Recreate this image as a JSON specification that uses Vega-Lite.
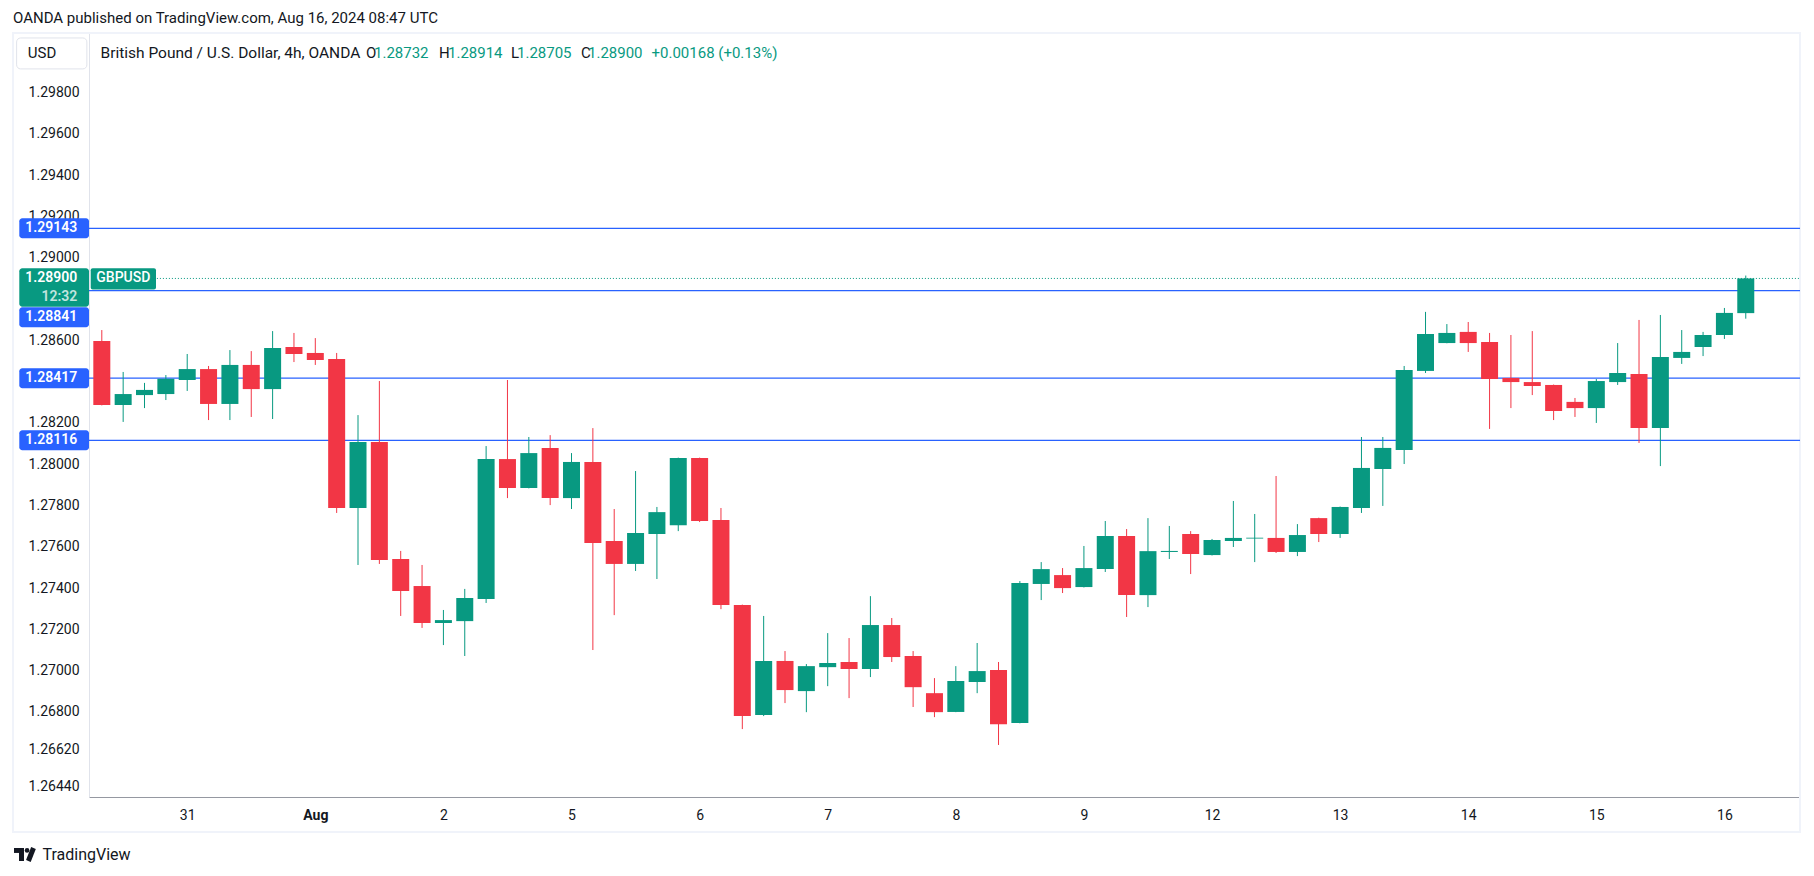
{
  "$schema": "https://vega.github.io/schema/vega-lite/v6.json",
  "width": 1711,
  "height": 764,
  "autosize": {"type": "none"},
  "padding": {"left": 89, "top": 33, "right": 14, "bottom": 79},
  "background": "white",
  "config": {
    "view": {"stroke": "#e0e3eb", "strokeWidth": 1},
    "font": "Roboto",
    "axis": {"grid": false, "ticks": false},
    "scale": {"continuousPadding": 0}
  },
  "title": {
    "text": "OANDA published on TradingView.com, Aug 16, 2024 08:47 UTC",
    "anchor": "start",
    "frame": "group",
    "dx": -76,
    "offset": 6,
    "fontSize": 15,
    "fontWeight": "normal",
    "color": "#131722",
    "font": "Roboto"
  },
  "datasets": {
    "candles": [
      {"i": 0, "o": 1.28597, "h": 1.28650, "l": 1.28285, "c": 1.28287},
      {"i": 1, "o": 1.28287, "h": 1.28447, "l": 1.28205, "c": 1.28340},
      {"i": 2, "o": 1.28335, "h": 1.28394, "l": 1.28272, "c": 1.28360},
      {"i": 3, "o": 1.28340, "h": 1.28432, "l": 1.28311, "c": 1.28414},
      {"i": 4, "o": 1.28408, "h": 1.28534, "l": 1.28355, "c": 1.28461},
      {"i": 5, "o": 1.28461, "h": 1.28476, "l": 1.28214, "c": 1.28292},
      {"i": 6, "o": 1.28292, "h": 1.28553, "l": 1.28214, "c": 1.28481},
      {"i": 7, "o": 1.28481, "h": 1.28548, "l": 1.28229, "c": 1.28364},
      {"i": 8, "o": 1.28364, "h": 1.28645, "l": 1.28219, "c": 1.28563},
      {"i": 9, "o": 1.28568, "h": 1.28636, "l": 1.28495, "c": 1.28534},
      {"i": 10, "o": 1.28539, "h": 1.28611, "l": 1.28481, "c": 1.28505},
      {"i": 11, "o": 1.28510, "h": 1.28539, "l": 1.27764, "c": 1.27788},
      {"i": 12, "o": 1.27788, "h": 1.28238, "l": 1.27512, "c": 1.28108},
      {"i": 13, "o": 1.28108, "h": 1.28403, "l": 1.27517, "c": 1.27536},
      {"i": 14, "o": 1.27541, "h": 1.27580, "l": 1.27265, "c": 1.27386},
      {"i": 15, "o": 1.27410, "h": 1.27512, "l": 1.27207, "c": 1.27231},
      {"i": 16, "o": 1.27231, "h": 1.27294, "l": 1.27124, "c": 1.27245},
      {"i": 17, "o": 1.27240, "h": 1.27396, "l": 1.27071, "c": 1.27352},
      {"i": 18, "o": 1.27347, "h": 1.28088, "l": 1.27328, "c": 1.28025},
      {"i": 19, "o": 1.28025, "h": 1.28408, "l": 1.27836, "c": 1.27885},
      {"i": 20, "o": 1.27885, "h": 1.28132, "l": 1.27883, "c": 1.28054},
      {"i": 21, "o": 1.28079, "h": 1.28141, "l": 1.27802, "c": 1.27836},
      {"i": 22, "o": 1.27836, "h": 1.28054, "l": 1.27783, "c": 1.28011},
      {"i": 23, "o": 1.28011, "h": 1.28175, "l": 1.27100, "c": 1.27618},
      {"i": 24, "o": 1.27628, "h": 1.27783, "l": 1.27269, "c": 1.27517},
      {"i": 25, "o": 1.27517, "h": 1.27967, "l": 1.27483, "c": 1.27667},
      {"i": 26, "o": 1.27662, "h": 1.27793, "l": 1.27444, "c": 1.27768},
      {"i": 27, "o": 1.27705, "h": 1.28032, "l": 1.27676, "c": 1.28030},
      {"i": 28, "o": 1.28030, "h": 1.28032, "l": 1.27720, "c": 1.27725},
      {"i": 29, "o": 1.27730, "h": 1.27788, "l": 1.27298, "c": 1.27318},
      {"i": 30, "o": 1.27318, "h": 1.27320, "l": 1.26717, "c": 1.26780},
      {"i": 31, "o": 1.26785, "h": 1.27265, "l": 1.26780, "c": 1.27047},
      {"i": 32, "o": 1.27047, "h": 1.27095, "l": 1.26843, "c": 1.26906},
      {"i": 33, "o": 1.26901, "h": 1.27032, "l": 1.26799, "c": 1.27022},
      {"i": 34, "o": 1.27017, "h": 1.27182, "l": 1.26925, "c": 1.27037},
      {"i": 35, "o": 1.27042, "h": 1.27158, "l": 1.26867, "c": 1.27008},
      {"i": 36, "o": 1.27008, "h": 1.27361, "l": 1.26969, "c": 1.27221},
      {"i": 37, "o": 1.27221, "h": 1.27255, "l": 1.27042, "c": 1.27066},
      {"i": 38, "o": 1.27071, "h": 1.27095, "l": 1.26824, "c": 1.26920},
      {"i": 39, "o": 1.26891, "h": 1.26964, "l": 1.26775, "c": 1.26799},
      {"i": 40, "o": 1.26800, "h": 1.27022, "l": 1.26799, "c": 1.26950},
      {"i": 41, "o": 1.26945, "h": 1.27134, "l": 1.26891, "c": 1.26998},
      {"i": 42, "o": 1.27003, "h": 1.27042, "l": 1.26640, "c": 1.26741},
      {"i": 43, "o": 1.26746, "h": 1.27434, "l": 1.26745, "c": 1.27425},
      {"i": 44, "o": 1.27420, "h": 1.27526, "l": 1.27342, "c": 1.27492},
      {"i": 45, "o": 1.27463, "h": 1.27497, "l": 1.27376, "c": 1.27400},
      {"i": 46, "o": 1.27405, "h": 1.27604, "l": 1.27403, "c": 1.27497},
      {"i": 47, "o": 1.27492, "h": 1.27725, "l": 1.27478, "c": 1.27652},
      {"i": 48, "o": 1.27652, "h": 1.27686, "l": 1.27260, "c": 1.27366},
      {"i": 49, "o": 1.27366, "h": 1.27739, "l": 1.27308, "c": 1.27579},
      {"i": 50, "o": 1.27575, "h": 1.27701, "l": 1.27541, "c": 1.27580},
      {"i": 51, "o": 1.27662, "h": 1.27676, "l": 1.27468, "c": 1.27565},
      {"i": 52, "o": 1.27560, "h": 1.27638, "l": 1.27558, "c": 1.27633},
      {"i": 53, "o": 1.27628, "h": 1.27822, "l": 1.27599, "c": 1.27643},
      {"i": 54, "o": 1.27640, "h": 1.27759, "l": 1.27526, "c": 1.27644},
      {"i": 55, "o": 1.27643, "h": 1.27943, "l": 1.27570, "c": 1.27575},
      {"i": 56, "o": 1.27575, "h": 1.27710, "l": 1.27555, "c": 1.27657},
      {"i": 57, "o": 1.27739, "h": 1.27741, "l": 1.27623, "c": 1.27662},
      {"i": 58, "o": 1.27662, "h": 1.27795, "l": 1.27643, "c": 1.27793},
      {"i": 59, "o": 1.27788, "h": 1.28132, "l": 1.27764, "c": 1.27982},
      {"i": 60, "o": 1.27977, "h": 1.28132, "l": 1.27798, "c": 1.28079},
      {"i": 61, "o": 1.28069, "h": 1.28476, "l": 1.28001, "c": 1.28456},
      {"i": 62, "o": 1.28452, "h": 1.28738, "l": 1.28442, "c": 1.28631},
      {"i": 63, "o": 1.28587, "h": 1.28679, "l": 1.28586, "c": 1.28636},
      {"i": 64, "o": 1.28641, "h": 1.28689, "l": 1.28544, "c": 1.28587},
      {"i": 65, "o": 1.28592, "h": 1.28636, "l": 1.28171, "c": 1.28413},
      {"i": 66, "o": 1.28418, "h": 1.28626, "l": 1.28272, "c": 1.28398},
      {"i": 67, "o": 1.28398, "h": 1.28645, "l": 1.28335, "c": 1.28379},
      {"i": 68, "o": 1.28384, "h": 1.28386, "l": 1.28214, "c": 1.28258},
      {"i": 69, "o": 1.28302, "h": 1.28321, "l": 1.28229, "c": 1.28272},
      {"i": 70, "o": 1.28272, "h": 1.28413, "l": 1.28200, "c": 1.28403},
      {"i": 71, "o": 1.28398, "h": 1.28587, "l": 1.28384, "c": 1.28442},
      {"i": 72, "o": 1.28437, "h": 1.28699, "l": 1.28103, "c": 1.28176},
      {"i": 73, "o": 1.28176, "h": 1.28723, "l": 1.27991, "c": 1.28519},
      {"i": 74, "o": 1.28515, "h": 1.28650, "l": 1.28486, "c": 1.28544},
      {"i": 75, "o": 1.28568, "h": 1.28641, "l": 1.28524, "c": 1.28626},
      {"i": 76, "o": 1.28626, "h": 1.28757, "l": 1.28607, "c": 1.28733},
      {"i": 77, "o": 1.28732, "h": 1.28914, "l": 1.28705, "c": 1.28900}
    ],
    "levels": [
      {"price": 1.29143, "label": "1.29143"},
      {"price": 1.28841, "label": "1.28841"},
      {"price": 1.28417, "label": "1.28417"},
      {"price": 1.28116, "label": "1.28116"}
    ],
    "one": [{}]
  },
  "layer": [
    {
      "data": {"name": "one"},
      "mark": {"type": "rect", "fill": null, "stroke": "#f0f3fa", "strokeWidth": 2, "clip": false},
      "encoding": {
        "x": {"datum": -4.16},
        "x2": {"datum": 79.54},
        "y": {"datum": 1.30089},
        "y2": {"datum": 1.26218}
      }
    },
    {
      "data": {"name": "levels"},
      "mark": {"type": "rule", "color": "#2962ff", "strokeWidth": 1.2},
      "encoding": {
        "y": {"field": "price", "type": "quantitative"}
      }
    },
    {
      "data": {"name": "one"},
      "mark": {"type": "rule", "color": "#089981", "strokeWidth": 1, "strokeDash": [1, 2]},
      "encoding": {
        "x": {"datum": 2.58},
        "x2": {"datum": 79.54},
        "y": {"datum": 1.289}
      }
    },
    {
      "data": {"name": "candles"},
      "mark": {"type": "rule", "strokeWidth": 1},
      "encoding": {
        "x": {
          "field": "i", "type": "quantitative",
          "scale": {"domain": [-0.6, 79.54], "nice": false, "zero": false, "padding": 0},
          "axis": {
            "values": [4, 10, 16, 22, 28, 34, 40, 46, 52, 58, 64, 70, 76],
            "labelExpr": "['31','Aug','2','5','6','7','8','9','12','13','14','15','16'][round((datum.value-4)/6)]",
            "labelFontWeight": {"condition": {"test": "datum.value == 10", "value": "bold"}, "value": "normal"},
            "labelFontSize": 14,
            "labelColor": "#131722",
            "labelPadding": 11,
            "domainColor": "#9598a1",
            "title": "TradingView",
            "titleX": -47,
            "titleY": 57,
            "titleAlign": "left",
            "titleBaseline": "middle",
            "titleFontSize": 16,
            "titleFontWeight": "normal",
            "titleColor": "#131722"
          }
        },
        "y": {
          "field": "l", "type": "quantitative",
          "scale": {"domain": [1.26388, 1.30089], "nice": false, "zero": false, "padding": 0},
          "axis": {
            "values": [1.298, 1.296, 1.294, 1.292, 1.29, 1.286, 1.282, 1.28, 1.278, 1.276, 1.274, 1.272, 1.27, 1.268, 1.2662, 1.2644],
            "format": ".5f",
            "labelFontSize": 14,
            "labelColor": "#131722",
            "labelPadding": 10,
            "domainColor": "#e0e3eb",
            "title": null
          }
        },
        "y2": {"field": "h"},
        "color": {"condition": {"test": "datum.c >= datum.o", "value": "#089981"}, "value": "#f23645"}
      }
    },
    {
      "data": {"name": "candles"},
      "mark": {"type": "bar", "size": 17},
      "encoding": {
        "x": {"field": "i", "type": "quantitative"},
        "y": {"field": "o", "type": "quantitative"},
        "y2": {"field": "c"},
        "color": {"condition": {"test": "datum.c >= datum.o", "value": "#089981"}, "value": "#f23645"}
      }
    },
    {
      "data": {"name": "levels"},
      "transform": [{"filter": "datum.price != 1.28841"}],
      "mark": {"type": "bar", "color": "#2962ff", "size": 20, "cornerRadius": 3, "clip": false},
      "encoding": {
        "x": {"datum": -3.865},
        "x2": {"datum": -0.6},
        "y": {"field": "price", "type": "quantitative"}
      }
    },
    {
      "data": {"name": "levels"},
      "transform": [{"filter": "datum.price != 1.28841"}],
      "mark": {"type": "text", "color": "white", "fontSize": 14, "fontWeight": 600, "align": "right", "baseline": "middle"},
      "encoding": {
        "x": {"datum": -1.15},
        "y": {"field": "price", "type": "quantitative"},
        "text": {"field": "label"}
      }
    },
    {
      "data": {"name": "one"},
      "mark": {"type": "rect", "color": "#2962ff", "cornerRadius": 3},
      "encoding": {
        "x": {"datum": -3.865},
        "x2": {"datum": -0.6},
        "y": {"datum": 1.28760},
        "y2": {"datum": 1.28663}
      }
    },
    {
      "data": {"name": "one"},
      "mark": {"type": "text", "color": "white", "fontSize": 14, "fontWeight": 600, "align": "right", "baseline": "middle"},
      "encoding": {
        "x": {"datum": -1.15},
        "y": {"datum": 1.28712},
        "text": {"value": "1.28841"}
      }
    },
    {
      "data": {"name": "one"},
      "mark": {"type": "rect", "color": "#089981", "cornerRadius": 3},
      "encoding": {
        "x": {"datum": -3.865},
        "x2": {"datum": -0.6},
        "y": {"datum": 1.28949},
        "y2": {"datum": 1.28763}
      }
    },
    {
      "data": {"name": "one"},
      "mark": {"type": "text", "color": "white", "fontSize": 14, "fontWeight": 600, "align": "right", "baseline": "middle"},
      "encoding": {
        "x": {"datum": -1.15},
        "y": {"datum": 1.289},
        "text": {"value": "1.28900"}
      }
    },
    {
      "data": {"name": "one"},
      "mark": {"type": "text", "color": "white", "opacity": 0.75, "fontSize": 14, "fontWeight": 600, "align": "right", "baseline": "middle"},
      "encoding": {
        "x": {"datum": -1.15},
        "y": {"datum": 1.2881},
        "text": {"value": "12:32"}
      }
    },
    {
      "data": {"name": "one"},
      "mark": {"type": "rect", "color": "#089981", "cornerRadius": 2},
      "encoding": {
        "x": {"datum": -0.52},
        "x2": {"datum": 2.538},
        "y": {"datum": 1.28949},
        "y2": {"datum": 1.28847}
      }
    },
    {
      "data": {"name": "one"},
      "mark": {"type": "text", "color": "white", "fontSize": 14, "fontWeight": 500, "align": "center", "baseline": "middle"},
      "encoding": {
        "x": {"datum": 1.007},
        "y": {"datum": 1.289},
        "text": {"value": "GBPUSD"}
      }
    },
    {
      "data": {"name": "one"},
      "mark": {"type": "rect", "fill": "white", "stroke": "#e0e3eb", "strokeWidth": 1, "cornerRadius": 4},
      "encoding": {
        "x": {"datum": -3.99},
        "x2": {"datum": -0.7},
        "y": {"datum": 1.30065},
        "y2": {"datum": 1.29915}
      }
    },
    {
      "data": {"name": "one"},
      "mark": {"type": "text", "color": "#131722", "fontSize": 15, "align": "center", "baseline": "middle"},
      "encoding": {
        "x": {"datum": -2.8},
        "y": {"datum": 1.2999},
        "text": {"value": "USD"}
      }
    },
    {
      "data": {"name": "one"},
      "mark": {"type": "text", "color": "#131722", "fontSize": 15.5, "align": "left", "baseline": "middle"},
      "encoding": {
        "x": {"datum": -0.061},
        "y": {"datum": 1.29991},
        "text": {"value": "British Pound / U.S. Dollar, 4h, OANDA"}
      }
    },
    {
      "data": {"name": "one"},
      "mark": {"type": "text", "color": "#131722", "fontSize": 15, "align": "left", "baseline": "middle"},
      "encoding": {"x": {"datum": 12.374}, "y": {"datum": 1.29991}, "text": {"value": "O"}}
    },
    {
      "data": {"name": "one"},
      "mark": {"type": "text", "color": "#089981", "fontSize": 15, "align": "left", "baseline": "middle"},
      "encoding": {"x": {"datum": 12.749}, "y": {"datum": 1.29991}, "text": {"value": "1.28732"}}
    },
    {
      "data": {"name": "one"},
      "mark": {"type": "text", "color": "#131722", "fontSize": 15, "align": "left", "baseline": "middle"},
      "encoding": {"x": {"datum": 15.794}, "y": {"datum": 1.29991}, "text": {"value": "H"}}
    },
    {
      "data": {"name": "one"},
      "mark": {"type": "text", "color": "#089981", "fontSize": 15, "align": "left", "baseline": "middle"},
      "encoding": {"x": {"datum": 16.215}, "y": {"datum": 1.29991}, "text": {"value": "1.28914"}}
    },
    {
      "data": {"name": "one"},
      "mark": {"type": "text", "color": "#131722", "fontSize": 15, "align": "left", "baseline": "middle"},
      "encoding": {"x": {"datum": 19.166}, "y": {"datum": 1.29991}, "text": {"value": "L"}}
    },
    {
      "data": {"name": "one"},
      "mark": {"type": "text", "color": "#089981", "fontSize": 15, "align": "left", "baseline": "middle"},
      "encoding": {"x": {"datum": 19.447}, "y": {"datum": 1.29991}, "text": {"value": "1.28705"}}
    },
    {
      "data": {"name": "one"},
      "mark": {"type": "text", "color": "#131722", "fontSize": 15, "align": "left", "baseline": "middle"},
      "encoding": {"x": {"datum": 22.445}, "y": {"datum": 1.29991}, "text": {"value": "C"}}
    },
    {
      "data": {"name": "one"},
      "mark": {"type": "text", "color": "#089981", "fontSize": 15, "align": "left", "baseline": "middle"},
      "encoding": {"x": {"datum": 22.773}, "y": {"datum": 1.29991}, "text": {"value": "1.28900"}}
    },
    {
      "data": {"name": "one"},
      "mark": {"type": "text", "color": "#089981", "fontSize": 15, "align": "left", "baseline": "middle"},
      "encoding": {"x": {"datum": 25.747}, "y": {"datum": 1.29991}, "text": {"value": "+0.00168 (+0.13%)"}}
    },
    {
      "data": {"name": "one"},
      "mark": {"type": "rect", "color": "#131722"},
      "encoding": {
        "x": {"datum": -4.113},
        "x2": {"datum": -3.645},
        "y": {"datum": 1.26141},
        "y2": {"datum": 1.26117}
      }
    },
    {
      "data": {"name": "one"},
      "mark": {"type": "rect", "color": "#131722"},
      "encoding": {
        "x": {"datum": -3.88},
        "x2": {"datum": -3.645},
        "y": {"datum": 1.26141},
        "y2": {"datum": 1.26078}
      }
    },
    {
      "data": {"name": "one"},
      "mark": {"type": "point", "shape": "circle", "filled": true, "color": "#131722", "size": 22, "opacity": 1},
      "encoding": {
        "x": {"datum": -3.5},
        "y": {"datum": 1.26129}
      }
    },
    {
      "data": {"name": "one"},
      "mark": {"type": "rule", "color": "#131722", "strokeWidth": 5, "strokeCap": "butt"},
      "encoding": {
        "x": {"datum": -3.2},
        "x2": {"datum": -3.44},
        "y": {"datum": 1.26141},
        "y2": {"datum": 1.26078}
      }
    }
  ]
}
